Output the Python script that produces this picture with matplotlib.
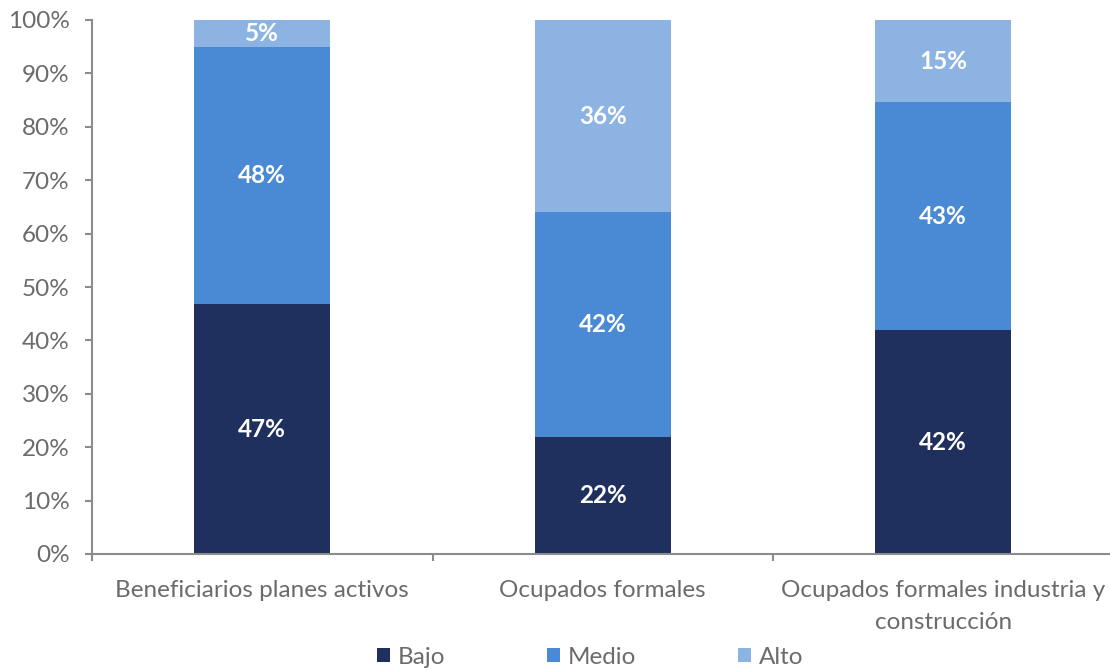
import matplotlib
matplotlib.use("Agg")
import matplotlib.pyplot as plt
import numpy as np

categories = ["Beneficiarios planes activos", "Ocupados formales",
              "Ocupados formales industria y\nconstrucción"]
series_names = ["Bajo", "Medio", "Alto"]
bajo = [46.8, 21.9, 41.9]
medio = [48.1, 42.1, 42.7]
alto = [5.1, 36.0, 15.4]
yticks = [0, 10, 20, 30, 40, 50, 60, 70, 80, 90, 100]
colors = ["#1F305E", "#4A8AD4", "#8DB3E2"]

plt.rcParams['font.family'] = ['Lato', 'DejaVu Sans']
txtcol = "#6B6B6B"

fig = plt.figure(figsize=(11.1, 6.7), dpi=100)
ax = fig.add_axes([92/1110, 116/670, 1021.5/1110, 534/670])

x = np.arange(len(categories))
bottom = np.zeros(len(categories))
handles = []
for name, vals, c in zip(series_names, [bajo, medio, alto], colors):
    b = ax.bar(x, vals, width=0.4, bottom=bottom, color=c, label=name, zorder=2)
    handles.append(b)
    for xi, v, bt in zip(x, vals, bottom):
        ax.text(xi, bt + v / 2, f"{round(v):d}%", ha="center", va="center",
                color="white", fontsize=17.5, fontweight="bold")
    bottom += np.array(vals)

ax.set_xlim(-0.5, 2.5)
ax.set_ylim(0, 100)
ax.set_yticks(yticks)
ax.set_yticklabels([f"{t}%" for t in yticks])
ax.set_xticks(x)
ax.set_xticklabels(categories, linespacing=1.65)
ax.set_xticks([-0.5, 0.5, 1.5, 2.5], minor=True)
ax.tick_params(axis="x", which="major", length=0, pad=19, labelsize=17.5, colors=txtcol)
ax.tick_params(axis="x", which="minor", length=5, width=1.5, color="#8C8C8C", direction="out")
ax.tick_params(axis="y", length=5, width=1.5, color="#8C8C8C", labelsize=17.5,
               labelcolor=txtcol, pad=11)
for s in ["top", "right"]:
    ax.spines[s].set_visible(False)
for s in ["left", "bottom"]:
    ax.spines[s].set_color("#8C8C8C")
    ax.spines[s].set_linewidth(1.5)

leg = fig.legend(handles=handles, labels=series_names, loc="center",
                 bbox_to_anchor=(590/1110, 1 - 657/670), ncol=3, frameon=False,
                 fontsize=17.5, handlelength=0.55, handleheight=0.55,
                 handletextpad=0.3, columnspacing=4.2, borderpad=0.1)
for t in leg.get_texts():
    t.set_color(txtcol)

fig.savefig("out.png", dpi=100)
